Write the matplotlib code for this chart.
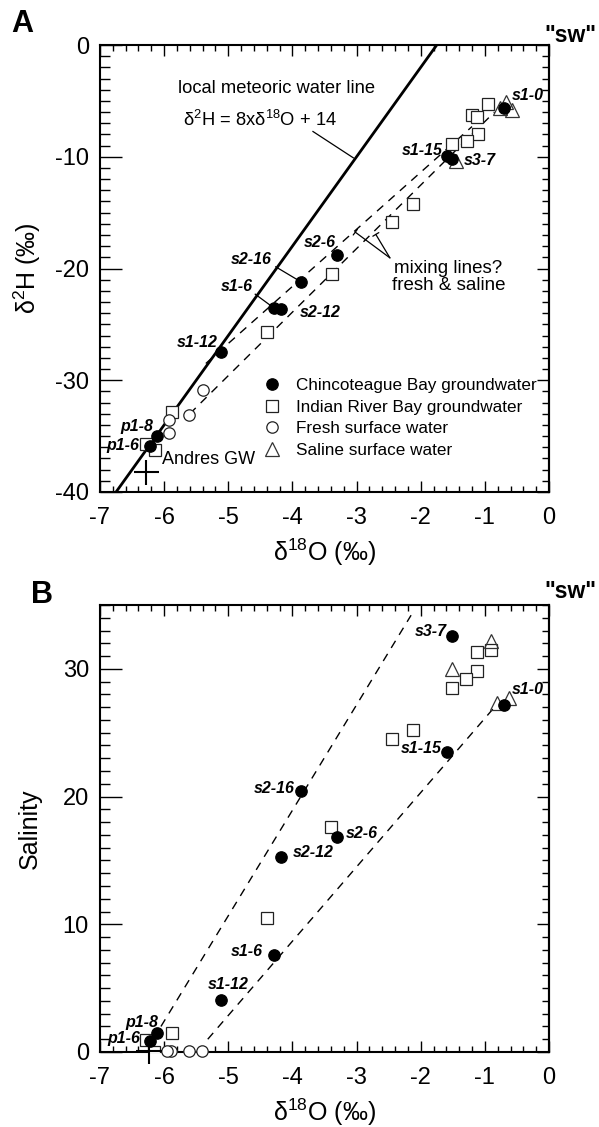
import matplotlib
matplotlib.use("Agg")
import matplotlib.pyplot as plt
from matplotlib.ticker import MultipleLocator
from matplotlib.patches import ArrowStyle

plt.rcParams['font.family'] = ['Liberation Sans', 'DejaVu Sans']
plt.rcParams['mathtext.fontset'] = 'custom'
plt.rcParams['mathtext.rm'] = 'Liberation Sans'
plt.rcParams['mathtext.it'] = 'Liberation Sans:italic'
plt.rcParams['mathtext.bf'] = 'Liberation Sans:bold'
plt.rcParams['axes.unicode_minus'] = False

# ---------------- data ----------------
# Chincoteague Bay groundwater (filled circles)
cb_labels = ['s1-0', 's1-15', 's3-7', 's2-6', 's2-16', 's1-6', 's2-12', 's1-12', 'p1-8', 'p1-6']
cb_d18O = [-0.70, -1.59, -1.52, -3.31, -3.86, -4.28, -4.18, -5.11, -6.11, -6.22]
cb_d2H = [-5.6, -9.97, -10.2, -18.8, -21.2, -23.5, -23.6, -27.45, -35.0, -35.9]
cb_sal = [27.2, 23.5, 32.6, 16.8, 20.4, 7.6, 15.3, 4.05, 1.45, 0.9]

# Indian River Bay groundwater (open squares)
irb_d18O_A = [-0.95, -1.20, -1.13, -1.10, -1.28, -1.52, -2.12, -2.44, -3.39, -4.40, -5.88, -6.28, -6.15]
irb_d2H_A = [-5.3, -6.25, -6.45, -8.0, -8.6, -8.9, -14.2, -15.8, -20.5, -25.7, -32.8, -35.7, -36.2]
irb_d18O_B = [-0.90, -1.13, -1.12, -1.29, -1.52, -2.12, -2.44, -3.40, -4.39, -5.88, -6.28, -6.16]
irb_sal_B = [31.5, 31.3, 29.8, 29.2, 28.5, 25.2, 24.5, 17.6, 10.5, 1.45, 0.95, 0.0]

# Fresh surface water (open circles)
fsw_d18O_A = [-5.39, -5.62, -5.92, -5.93]
fsw_d2H_A = [-30.9, -33.1, -33.6, -34.7]
fsw_d18O_B = [-5.41, -5.62, -5.90, -5.95]
fsw_sal_B = [0.1, 0.1, 0.1, 0.1]

# Saline surface water (open triangles)
ssw_d18O_A = [-0.76, -0.67, -0.58, -1.45]
ssw_d2H_A = [-5.65, -5.1, -5.8, -10.35]
ssw_d18O_B = [-0.91, -1.52, -0.81, -0.63]
ssw_sal_B = [32.2, 30.0, 27.3, 27.7]

# Andres groundwater
andres_A = (-6.29, -38.2)
andres_B = (-6.24, 0.05)

# Local meteoric water line: d2H = 8 * d18O + 14
lmwl_slope, lmwl_int = 8, 14
lmwl_x = [-6.75, -1.75]

# Mixing lines (endpoints)
mixA_upper_x, mixA_upper_y = [-5.35, -1.2], [-28.5, -7.3]
mixA_lower_x, mixA_lower_y = [-5.6, -0.85], [-33.0, -6.0]
mixB_upper_x, mixB_upper_y = [-6.05, -2.15], [2.0, 34.2]
mixB_lower_x, mixB_lower_y = [-5.32, -0.85], [1.0, 27.0]

# label positions (x, y, ha)
labA = {'s1-0': (-0.58, -4.5, 'left'), 's1-15': (-1.65, -9.4, 'right'),
        's3-7': (-1.33, -10.3, 'left'), 's2-6': (-3.57, -17.65, 'center'),
        's2-16': (-4.32, -19.2, 'right'), 's1-6': (-4.61, -21.6, 'right'),
        's2-12': (-3.88, -23.96, 'left'), 's1-12': (-5.16, -26.6, 'right'),
        'p1-8': (-6.17, -34.1, 'right'), 'p1-6': (-6.39, -35.8, 'right')}
labB = {'s1-0': (-0.58, 28.4, 'left'), 's1-15': (-1.67, 23.8, 'right'),
        's3-7': (-1.60, 32.9, 'right'), 's2-6': (-3.17, 17.1, 'left'),
        's2-16': (-3.96, 20.6, 'right'), 's1-6': (-4.46, 7.9, 'right'),
        's2-12': (-4.0, 15.6, 'left'), 's1-12': (-5.0, 5.25, 'center'),
        'p1-8': (-6.09, 2.3, 'right'), 'p1-6': (-6.38, 1.07, 'right')}

xticks = [-7, -6, -5, -4, -3, -2, -1, 0]

# ---------------- figure ----------------
fig = plt.figure(figsize=(5.99, 11.27), dpi=100)
L, R = 100 / 599, 549 / 599
axA = fig.add_axes([L, 1 - 492 / 1127, R - L, 447 / 1127])
axB = fig.add_axes([L, 1 - 1052 / 1127, R - L, 447 / 1127])

TICKFS = 17
LABFS = 11.5
ms_c, ms_s, ms_t = 8.2, 8.3, 10.5
mew = 0.9


def style_axes(ax, ymajor, yminor):
    for s in ax.spines.values():
        s.set_linewidth(1.5)
    ax.set_xticks(xticks)
    ax.xaxis.set_minor_locator(MultipleLocator(0.2))
    ax.yaxis.set_major_locator(MultipleLocator(ymajor))
    ax.yaxis.set_minor_locator(MultipleLocator(yminor))
    ax.tick_params(axis='x', which='major', direction='in', length=8.2, width=1,
                   top=True, bottom=True, labelsize=TICKFS, pad=11)
    ax.tick_params(axis='x', which='minor', direction='in', length=4.5, width=1,
                   top=True, bottom=True)
    ax.tick_params(axis='y', which='major', direction='in', length=16, width=1,
                   left=True, right=False, labelsize=TICKFS, pad=8)
    ax.tick_params(axis='y', which='minor', direction='in', length=7.5, width=1,
                   left=True, right=False)
    sec = ax.secondary_yaxis('right')
    sec.yaxis.set_major_locator(MultipleLocator(ymajor))
    sec.yaxis.set_minor_locator(MultipleLocator(yminor))
    sec.tick_params(which='major', direction='in', length=8.6, width=1, labelright=False)
    sec.tick_params(which='minor', direction='in', length=4.7, width=1, labelright=False)
    sec.spines['right'].set_linewidth(1.5)


def set_labels(ax, xlabel, ylabel, ylab_x):
    ax.set_xlabel(xlabel, fontsize=18)
    ax.xaxis.label.set_va('center')
    ax.xaxis.set_label_coords(0.5, -0.136)
    ax.set_ylabel(ylabel, fontsize=18)
    ax.yaxis.label.set_va('center')
    ax.yaxis.label.set_ha('center')
    ax.yaxis.set_label_coords(ylab_x, 0.5)


# ---------------- Panel A ----------------
ax = axA
ax.plot(lmwl_x, [lmwl_slope * v + lmwl_int for v in lmwl_x], color='black', lw=2.0, zorder=2)
for xs, ys in [(mixA_upper_x, mixA_upper_y), (mixA_lower_x, mixA_lower_y)]:
    ax.plot(xs, ys, color='black', lw=1.0, dashes=(6, 5), zorder=2)

ax.plot(cb_d18O, cb_d2H, 'o', ms=ms_c, mfc='black', mec='black', mew=mew, zorder=5,
        label='Chincoteague Bay groundwater')
ax.plot(irb_d18O_A, irb_d2H_A, 's', ms=ms_s, mfc='white', mec='#222222', mew=mew, zorder=4,
        label='Indian River Bay groundwater')
ax.plot(fsw_d18O_A, fsw_d2H_A, 'o', ms=ms_c, mfc='white', mec='#222222', mew=mew, zorder=4,
        label='Fresh surface water')
ax.plot(ssw_d18O_A, ssw_d2H_A, '^', ms=ms_t, mfc='none', mec='#333333', mew=mew, zorder=4,
        label='Saline surface water')
ax.plot([andres_A[0]], [andres_A[1]], '+', ms=18, mec='black', mew=1.5, zorder=5)

ax.set_xlim(-7, 0)
ax.set_ylim(-40, 0)
style_axes(ax, 10, 1)
set_labels(ax, 'δ$^{18}$O (‰)', 'δ$^{2}$H (‰)', -0.163)

for lab, (x, y, ha) in labA.items():
    ax.text(x, y, lab, ha=ha, va='center', fontsize=LABFS, fontweight='bold', fontstyle='italic', zorder=6)
ax.text(-6.04, -37.1, 'Andres GW', ha='left', va='center', fontsize=13)
# leader lines
ax.plot([-4.26, -3.93], [-19.85, -20.98], color='black', lw=0.9)
ax.plot([-4.58, -4.32], [-22.3, -23.4], color='black', lw=0.9)

ax.text(-4.24, -3.87, 'local meteoric water line', ha='center', va='center', fontsize=13.2)
ax.text(-4.51, -6.7, 'δ$^{2}$H = 8xδ$^{18}$O + 14', ha='center', va='center', fontsize=13.2)
ax.plot([-3.68, -3.05], [-7.74, -10.1], color='black', lw=0.9)

ax.text(-1.57, -20.75, 'mixing lines?\nfresh & saline', ha='center', va='center',
        fontsize=13.5, linespacing=1.05)
bracket = ArrowStyle('-[', widthB=0.25, lengthB=0.0)
for tx, ty in [(-3.02, -16.75), (-2.70, -16.95)]:
    ax.annotate('', xy=(tx, ty), xytext=(-2.48, -19.05),
                arrowprops=dict(arrowstyle=bracket, color='black', lw=0.9,
                                shrinkA=0, shrinkB=0))

leg = ax.legend(loc='upper left', bbox_to_anchor=(0.364, 0.254), frameon=False,
                fontsize=12.3, handlelength=1.0, handletextpad=0.9, labelspacing=0.38,
                borderpad=0, borderaxespad=0, numpoints=1)

fig.text(22 / 599, 1 - 23.5 / 1127, 'A', fontsize=22, fontweight='bold', ha='center', va='center')
fig.text(596 / 599, 1 - 36 / 1127, '"sw"', fontsize=16.5, fontweight='bold', ha='right', va='center')

# ---------------- Panel B ----------------
ax = axB
for xs, ys in [(mixB_upper_x, mixB_upper_y), (mixB_lower_x, mixB_lower_y)]:
    ax.plot(xs, ys, color='black', lw=1.0, dashes=(6, 5), zorder=2)

ax.plot(cb_d18O, cb_sal, 'o', ms=ms_c, mfc='black', mec='black', mew=mew, zorder=5)
ax.plot(irb_d18O_B, irb_sal_B, 's', ms=ms_s, mfc='white', mec='#222222', mew=mew, zorder=4)
ax.plot(fsw_d18O_B, fsw_sal_B, 'o', ms=ms_c, mfc='white', mec='#222222', mew=mew, zorder=4,
        clip_on=False)
ax.plot(ssw_d18O_B, ssw_sal_B, '^', ms=ms_t, mfc='none', mec='#333333', mew=mew, zorder=4)
ax.plot([andres_B[0]], [andres_B[1]], '+', ms=19, mec='black', mew=1.5, zorder=5, clip_on=False)

ax.set_xlim(-7, 0)
ax.set_ylim(0, 35)
style_axes(ax, 10, 1)
set_labels(ax, 'δ$^{18}$O (‰)', 'Salinity', -0.156)

for lab, (x, y, ha) in labB.items():
    ax.text(x, y, lab, ha=ha, va='center', fontsize=LABFS, fontweight='bold', fontstyle='italic', zorder=6)

fig.text(42 / 599, 1 - 595 / 1127, 'B', fontsize=22, fontweight='bold', ha='center', va='center')
fig.text(596 / 599, 1 - 592 / 1127, '"sw"', fontsize=16.5, fontweight='bold', ha='right', va='center')

fig.savefig('out.png', dpi=100)
